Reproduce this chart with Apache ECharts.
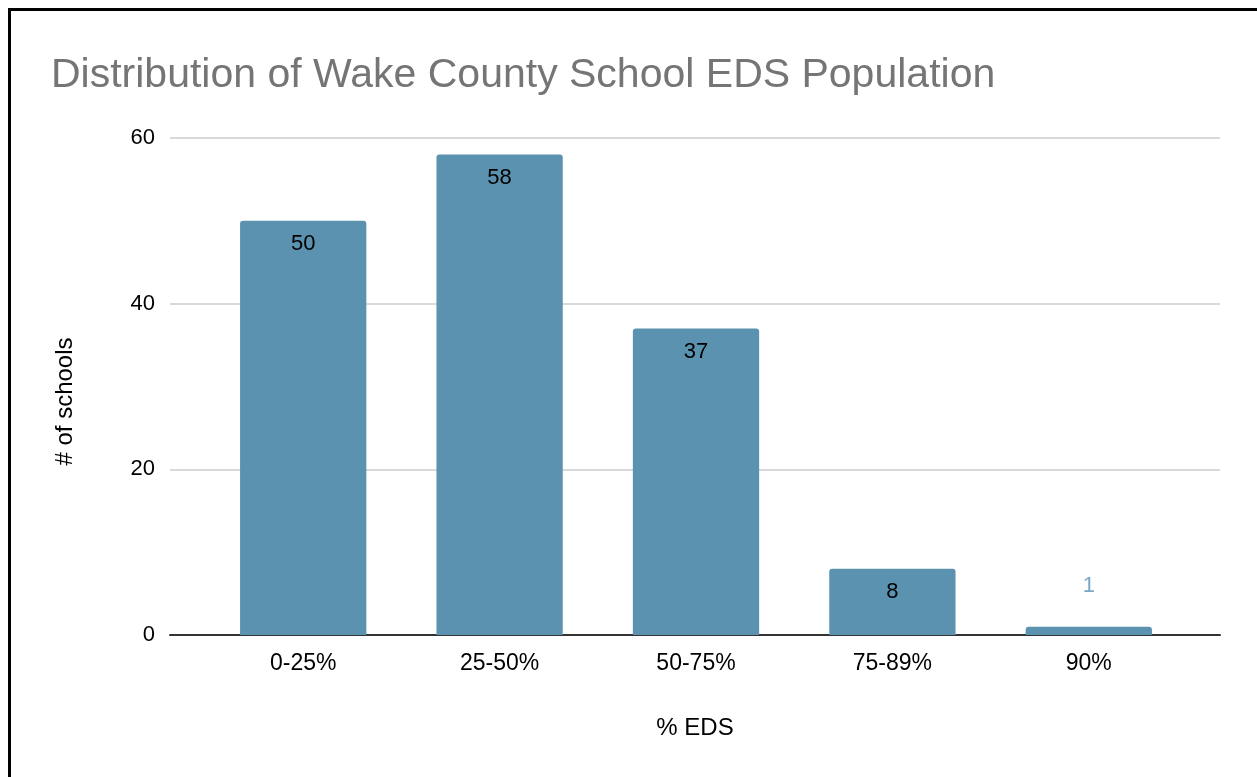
<!DOCTYPE html>
<html>
<head>
<meta charset="utf-8">
<script src="https://cdn.jsdelivr.net/npm/echarts@6/dist/echarts.min.js"></script>
<style>
html,body{margin:0;padding:0;background:#fff;}
#frame{position:absolute;left:8px;top:8px;width:1260px;height:780px;border-top:3px solid #000;border-left:3px solid #000;box-sizing:border-box;}
#chart{position:absolute;left:0;top:0;width:1257px;height:777px;}
</style>
</head>
<body>
<div id="frame"></div>
<div id="chart"></div>
<script>
var categories = ['0-25%', '25-50%', '50-75%', '75-89%', '90%'];
var schoolCounts = [50, 58, 37, 8, 1];
var yTicks = [0, 20, 40, 60];

var chart = echarts.init(document.getElementById('chart'));
var FONT = 'Liberation Sans, Arial, sans-serif';
var barColor = '#5b92b0';

var seriesData = schoolCounts.map(function (v) {
  if (v < 4) {
    return { value: v, label: { position: 'top', distance: 30, color: '#7aa8c4' } };
  }
  return v;
});

chart.setOption({
  animation: false,
  title: {
    text: 'Distribution of Wake County School EDS Population',
    left: 46, top: 50,
    textStyle: { fontFamily: FONT, fontSize: 41, fontWeight: 'normal', color: '#757575' }
  },
  grid: [
    { left: 170, right: 37, top: 138, bottom: 142 },
    { left: 205, right: 70, top: 138, bottom: 142 }
  ],
  xAxis: [
    {
      gridIndex: 0, type: 'category', data: categories,
      axisLine: { show: true, lineStyle: { color: '#333', width: 2 } },
      axisTick: { show: false }, axisLabel: { show: false },
      name: '% EDS', nameLocation: 'middle', nameGap: 81,
      nameTextStyle: { fontFamily: FONT, fontSize: 24, color: '#000' }
    },
    {
      gridIndex: 1, type: 'category', data: categories,
      axisLine: { show: false }, axisTick: { show: false },
      axisLabel: { fontFamily: FONT, fontSize: 23, color: '#000', margin: 17 }
    }
  ],
  yAxis: [
    {
      gridIndex: 0, type: 'value', min: yTicks[0], max: yTicks[yTicks.length - 1], interval: 20,
      axisLine: { show: false }, axisTick: { show: false },
      axisLabel: { fontFamily: FONT, fontSize: 22, color: '#000', margin: 15 },
      splitLine: { lineStyle: { color: '#cccccc', width: 1.5 } },
      name: '# of schools', nameLocation: 'middle', nameGap: 93, nameRotate: 90,
      nameTextStyle: { fontFamily: FONT, fontSize: 24, color: '#000', padding: [0, 30, 0, 0] }
    },
    {
      gridIndex: 1, type: 'value', min: yTicks[0], max: yTicks[yTicks.length - 1], interval: 20,
      show: false, splitLine: { show: false }
    }
  ],
  series: [
    {
      type: 'bar', xAxisIndex: 1, yAxisIndex: 1,
      data: seriesData,
      barCategoryGap: '35.7%',
      itemStyle: { color: barColor, borderRadius: [3, 3, 0, 0] },
      label: {
        show: true, position: 'insideTop', distance: 12,
        fontFamily: FONT, fontSize: 22, color: '#000'
      },
      z: 3
    }
  ]
});
</script>
</body>
</html>
